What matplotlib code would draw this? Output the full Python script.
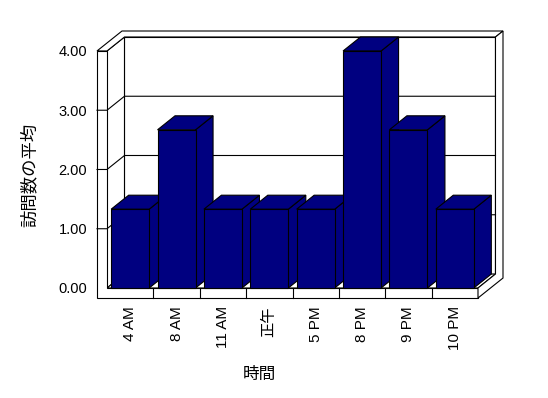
import matplotlib
matplotlib.use("Agg")
import matplotlib.pyplot as plt
from matplotlib.patches import Polygon

plt.rcParams['font.family'] = ['Liberation Sans', 'Noto Sans CJK JP', 'DejaVu Sans']

# data
categories = ['4 AM', '8 AM', '11 AM', '正午', '5 PM', '8 PM', '9 PM', '10 PM']
visits = [1.33, 2.67, 1.33, 1.33, 1.33, 4.0, 2.67, 1.33]
yticks = [0, 1, 2, 3, 4]
ytick_labels = ['0.00', '1.00', '2.00', '3.00', '4.00']

navy = '#000080'
lw = 0.8
n = len(categories)
ymax = 4.0

# pseudo-3d geometry (in data units)
tw = 0.2156   # left wall thickness
tf = 0.1688   # floor thickness
dx, dy = 0.377, 0.236     # depth offset
dxb, dyb = 0.162, 0.101   # back wall thickness offset
bw = 0.82                 # bar width

fig = plt.figure(figsize=(5.48, 3.98), dpi=100)
ax = fig.add_axes([97/548, 100/398, 406/548, 267/398])
ax.set_xlim(-tw, n + dx + dxb)
ax.set_ylim(-tf, ymax + dy + dyb)
for s in ax.spines.values():
    s.set_visible(False)


def face(pts, fc='white', z=1):
    ax.add_patch(Polygon(pts, closed=True, facecolor=fc, edgecolor='black',
                         linewidth=lw, zorder=z, clip_on=False))


# walls and floor
face([(dx, dy), (n + dx, dy), (n + dx, ymax + dy), (dx, ymax + dy)])
face([(0, 0), (dx, dy), (dx, ymax + dy), (0, ymax)])
face([(0, 0), (n, 0), (n + dx, dy), (dx, dy)])
face([(-tw, ymax), (0, ymax), (dx, ymax + dy), (n + dx, ymax + dy),
      (n + dx + dxb, ymax + dy + dyb), (-tw + dx + dxb, ymax + dy + dyb)])
face([(-tw, -tf), (n, -tf), (n, 0), (0, 0), (0, ymax), (-tw, ymax)])
face([(n, -tf), (n + dx + dxb, -tf + dy + dyb), (n + dx + dxb, ymax + dy + dyb),
      (n + dx, ymax + dy), (n + dx, dy), (n, 0)])

# gridlines
for v in yticks[1:-1]:
    ax.plot([-tw, 0, dx, n + dx], [v, v, v + dy, v + dy], color='black',
            linewidth=lw, zorder=2, clip_on=False)

# category dividers on floor front
for i in range(1, n):
    ax.plot([i, i], [-tf, 0], color='black', linewidth=lw, zorder=2, clip_on=False)

# bars
for i, h in enumerate(visits):
    c = i + 0.5
    l, r = c - bw / 2, c + bw / 2
    z = 3 + i
    face([(r, 0), (r + dx, dy), (r + dx, h + dy), (r, h)], navy, z)
    face([(l, h), (r, h), (r + dx, h + dy), (l + dx, h + dy)], navy, z)
    ax.bar([c], [h], width=bw, color=navy, edgecolor='black', linewidth=lw,
           zorder=z)

ax.set_yticks(yticks)
ax.set_yticklabels(ytick_labels, fontsize=10.5)
ax.set_xticks([i + 0.5 for i in range(n)])
ax.set_xticklabels(categories, rotation=90, fontsize=11)
ax.tick_params(axis='y', length=0, pad=7)
ax.tick_params(axis='x', length=0, pad=6)

fig.text(29/548, 1 - 175/398, '訪問数の平均', rotation=90, ha='center',
         va='center', fontsize=12.5)
fig.text(259/548, 1 - 374/398, '時間', ha='center', va='center', fontsize=12)

fig.savefig('out.png', dpi=100, facecolor='white')
